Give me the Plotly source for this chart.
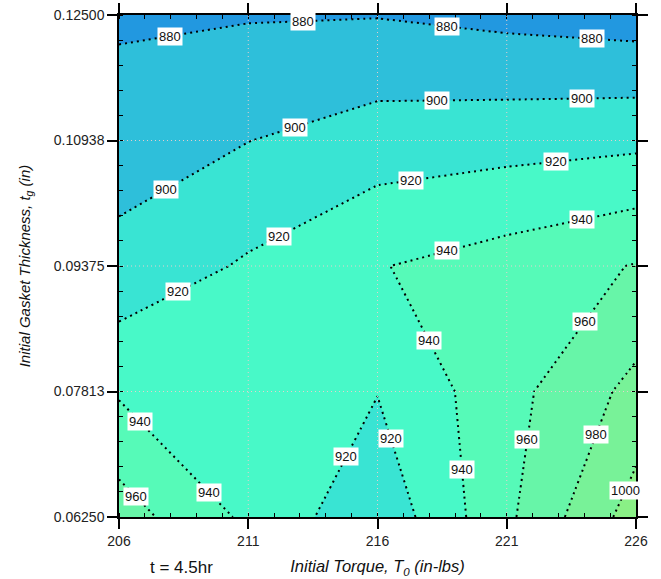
import plotly.graph_objects as go

# ---- data ----
torque = [206, 211, 216, 221, 226]
thickness = [0.0625, 0.078125, 0.09375, 0.109375, 0.125]
# rows follow thickness (bottom -> top), columns follow torque
stress = [
    [969.5, 936.0, 905.0, 956.0, 1009.4],
    [937.8, 930.0, 920.6, 953.0, 986.0],
    [905.8, 922.5, 939.0, 949.0, 961.0],
    [891.1, 899.7, 909.5, 912.3, 915.3],
    [876.6, 878.6, 879.2, 874.5, 870.5],
]
x_tickvals = [206, 211, 216, 221, 226]
y_tickvals = [0.0625, 0.078125, 0.09375, 0.109375, 0.125]
y_ticktext = ["0.06250", "0.07813", "0.09375", "0.10938", "0.12500"]
level_start, level_end, level_step = 880, 1000, 20
band_colors = [
    "rgb(34,152,224)",   # < 880
    "rgb(46,191,218)",   # 880-900
    "rgb(57,228,211)",   # 900-920
    "rgb(72,249,200)",   # 920-940
    "rgb(86,250,184)",   # 940-960
    "rgb(103,245,168)",  # 960-980
    "rgb(120,242,152)",  # 980-1000
    "rgb(138,240,134)",  # > 1000
]
# where to put each contour label: (level, fixed axis, fixed value, search range on other axis)
label_specs = [
    (880, "x", 207.96, (0.11, 0.125)), (880, "x", 213.1, (0.11, 0.125)),
    (880, "x", 218.7, (0.11, 0.125)), (880, "x", 224.3, (0.11, 0.125)),
    (900, "x", 207.8, (0.09, 0.125)), (900, "x", 212.8, (0.09, 0.125)),
    (900, "x", 218.3, (0.09, 0.125)), (900, "x", 223.9, (0.09, 0.125)),
    (920, "x", 212.2, (0.09, 0.125)), (920, "x", 217.3, (0.09, 0.125)),
    (920, "x", 222.9, (0.09, 0.125)), (920, "x", 208.3, (0.08, 0.095)),
    (920, "y", 0.0700, (211, 216)), (920, "y", 0.0723, (216, 221)),
    (940, "x", 218.7, (0.09, 0.125)), (940, "x", 223.9, (0.09, 0.125)),
    (940, "y", 0.0845, (216, 221)), (940, "x", 206.8, (0.0625, 0.085)),
    (940, "y", 0.0655, (206, 211)), (940, "y", 0.0684, (216, 221)),
    (960, "y", 0.0868, (221, 226)), (960, "y", 0.0650, (206, 211)),
    (960, "y", 0.0721, (221, 226)),
    (980, "y", 0.0728, (221, 226)),
    (1000, "y", 0.0658, (221, 226)),
]

n = len(band_colors) - 1
colorscale = [[i / n, c] for i, c in enumerate(band_colors)]


def cell_segment(level, i, j):
    """Marching-squares segment of `level` inside cell (row i, col j)."""
    x0, x1 = torque[j], torque[j + 1]
    y0, y1 = thickness[i], thickness[i + 1]
    z00, z01 = stress[i][j], stress[i][j + 1]
    z10, z11 = stress[i + 1][j], stress[i + 1][j + 1]

    def t(za, zb):
        if (za - level) * (zb - level) < 0:
            return (level - za) / (zb - za)
        return None

    pts = []
    tt = t(z00, z01)
    if tt is not None:
        pts.append((x0 + tt * (x1 - x0), y0))
    tt = t(z10, z11)
    if tt is not None:
        pts.append((x0 + tt * (x1 - x0), y1))
    tt = t(z00, z10)
    if tt is not None:
        pts.append((x0, y0 + tt * (y1 - y0)))
    tt = t(z01, z11)
    if tt is not None:
        pts.append((x1, y0 + tt * (y1 - y0)))
    return pts if len(pts) == 2 else None


def label_point(level, axis, val, rng):
    for i in range(len(thickness) - 1):
        for j in range(len(torque) - 1):
            seg = cell_segment(level, i, j)
            if seg is None:
                continue
            (ax, ay), (bx, by) = seg
            if axis == "x":
                if min(ax, bx) <= val <= max(ax, bx) and ax != bx:
                    y = ay + (val - ax) / (bx - ax) * (by - ay)
                    if rng[0] <= y <= rng[1]:
                        return val, y
            else:
                if min(ay, by) <= val <= max(ay, by) and ay != by:
                    x = ax + (val - ay) / (by - ay) * (bx - ax)
                    if rng[0] <= x <= rng[1]:
                        return x, val
    return None


fig = go.Figure()
fig.add_trace(go.Contour(
    x=torque, y=thickness, z=stress,
    autocontour=False,
    contours=dict(start=level_start, end=level_end, size=level_step,
                  coloring="fill", showlabels=False),
    colorscale=colorscale, showscale=False,
    line=dict(color="black", width=2, dash="2px,4px", smoothing=0),
    hoverinfo="skip",
))

# dotted light grid drawn over the fill at major tick positions
grid_col = "rgba(238,205,205,0.95)"
for xv in x_tickvals[1:-1]:
    fig.add_shape(type="line", xref="x", yref="paper", x0=xv, x1=xv, y0=0, y1=1,
                  line=dict(color=grid_col, width=1, dash="1px,3px"), layer="above")
for yv in y_tickvals[1:-1]:
    fig.add_shape(type="line", xref="paper", yref="y", x0=0, x1=1, y0=yv, y1=yv,
                  line=dict(color=grid_col, width=1, dash="1px,3px"), layer="above")

font_family = "Arial, Liberation Sans, sans-serif"

# contour labels in white boxes, placed on the contour lines
for level, axis, val, rng in label_specs:
    p = label_point(level, axis, val, rng)
    if p is None:
        continue
    fig.add_annotation(x=p[0], y=p[1], xref="x", yref="y", text=str(level),
                       showarrow=False, bgcolor="white", borderpad=1,
                       font=dict(family=font_family, size=13, color="#111"))

axis_common = dict(
    showgrid=False, zeroline=False, showline=True, linecolor="black", linewidth=1.5,
    mirror="ticks", ticks="outside", ticklen=10, tickwidth=2, tickcolor="black",
    tickfont=dict(family=font_family, size=14, color="#222"),
    layer="above traces", automargin=False,
)
fig.update_xaxes(
    range=[torque[0], torque[-1]], tickvals=x_tickvals,
    minor=dict(dtick=1, ticks="inside", ticklen=4, tickwidth=1, tickcolor="black"),
    title=dict(text="<i>Initial Torque, T<sub>0</sub> (in-lbs)</i>",
               font=dict(family=font_family, size=16.5, color="#111"), standoff=13),
    **axis_common,
)
fig.update_yaxes(
    range=[thickness[0], thickness[-1]], tickvals=y_tickvals, ticktext=y_ticktext,
    minor=dict(dtick=0.003125, ticks="inside", ticklen=4, tickwidth=1, tickcolor="black"),
    title=dict(text="<i>Initial Gasket Thickness, t<sub>g</sub> (in)</i>",
               font=dict(family=font_family, size=15, color="#111"), standoff=20),
    **axis_common,
)
fig.add_annotation(text="t = 4.5hr", xref="paper", yref="paper", x=0.12, y=-0.1,
                   xanchor="center", yanchor="middle", showarrow=False,
                   font=dict(family=font_family, size=17, color="#111"))
fig.update_layout(
    width=661, height=579,
    margin=dict(l=119, r=25, t=15, b=62),
    paper_bgcolor="white", plot_bgcolor="white",
    showlegend=False,
)
fig.write_html("out.html", config={"displayModeBar": False},
               post_script="document.body.style.margin='0px';document.body.style.padding='0px';")
